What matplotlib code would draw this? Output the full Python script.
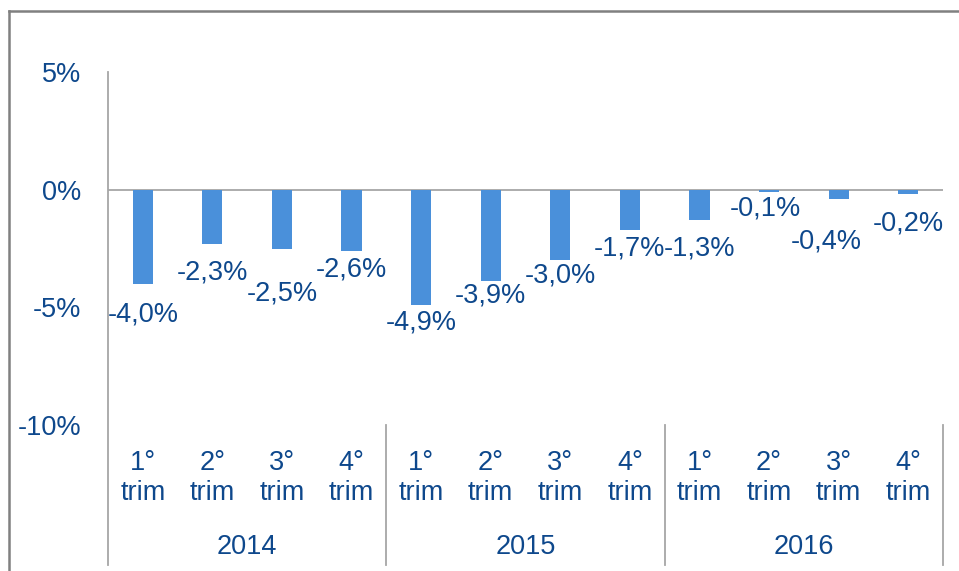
import matplotlib
matplotlib.use("Agg")
import matplotlib.pyplot as plt
import matplotlib.transforms as mtransforms
from matplotlib.lines import Line2D

# ---- data ----
years = ["2014", "2015", "2016"]
quarters = ["1°\ntrim", "2°\ntrim", "3°\ntrim", "4°\ntrim"]
values = [-4.0, -2.3, -2.5, -2.6, -4.9, -3.9, -3.0, -1.7, -1.3, -0.1, -0.4, -0.2]
value_labels = ["-4,0%", "-2,3%", "-2,5%", "-2,6%", "-4,9%", "-3,9%", "-3,0%",
                "-1,7%", "-1,3%", "-0,1%", "-0,4%", "-0,2%"]
yticks = [5, 0, -5, -10]
ytick_labels = ["5%", "0%", "-5%", "-10%"]

# label placement (data units), as arranged in the original
label_y = [-5.31, -3.53, -4.42, -3.40, -5.65, -4.50, -3.65, -2.51, -2.51, -0.81, -2.21, -1.44]
label_dx = [0, 0, 0, 0, 0, 0, 0, 0, 0, -0.05, -0.18, 0]

TXT = "#0E488C"
BAR = "#4A90DA"
GRID = "#A6A6A6"
FONT = "Liberation Sans"
FS = 19.5

W, H = 959, 571
fig = plt.figure(figsize=(W / 100, H / 100), dpi=100)
fig.patch.set_facecolor("white")

ax = fig.add_axes([108 / W, 1 - 425 / H, 835 / W, (425 - 72) / H])
n = len(values)
x = list(range(n))
ax.bar(x, values, width=0.29, color=BAR, zorder=3)
ax.set_xlim(-0.5, n - 0.5)
ax.set_ylim(-10, 5)
ax.axhline(0, color=GRID, lw=1.3, zorder=2)

for s in ["top", "right", "bottom", "left"]:
    ax.spines[s].set_visible(False)
ax.set_xticks([])
ax.set_yticks(yticks)
ax.set_yticklabels(ytick_labels, fontsize=FS, color=TXT, family=FONT)
ax.tick_params(axis="y", length=0, pad=19)

# data labels
for i in range(n):
    ax.text(x[i] + label_dx[i], label_y[i], value_labels[i], ha="center", va="center",
            fontsize=FS, color=TXT, family=FONT, zorder=4)

# category labels
trans = mtransforms.blended_transform_factory(ax.transData, ax.transAxes)
for yi, yr in enumerate(years):
    for qi, q in enumerate(quarters):
        idx = yi * len(quarters) + qi
        ax.text(idx, -0.15, q, transform=trans, ha="center", va="center",
                fontsize=FS, color=TXT, family=FONT, linespacing=1.22)
    center = yi * len(quarters) + (len(quarters) - 1) / 2
    ax.text(center, -0.345, yr, transform=trans, ha="center", va="center",
            fontsize=FS, color=TXT, family=FONT)

# axis line and separators
ax.add_line(Line2D([-0.5, -0.5], [1.0, -0.397], transform=trans, color=GRID,
                   lw=1.3, clip_on=False))
for k in range(1, len(years) + 1):
    xs = k * len(quarters) - 0.5
    ax.add_line(Line2D([xs, xs], [0.0, -0.397], transform=trans, color=GRID,
                       lw=1.3, clip_on=False))

# outer frame (top and left visible)
fig.add_artist(Line2D([8.5 / W, 1.0], [1 - 10.5 / H, 1 - 10.5 / H],
                      transform=fig.transFigure, color="#808080", lw=1.8))
fig.add_artist(Line2D([8.5 / W, 8.5 / W], [1 - 10.5 / H, 0.0],
                      transform=fig.transFigure, color="#808080", lw=1.8))

fig.savefig("out.png", dpi=100, facecolor="white")
